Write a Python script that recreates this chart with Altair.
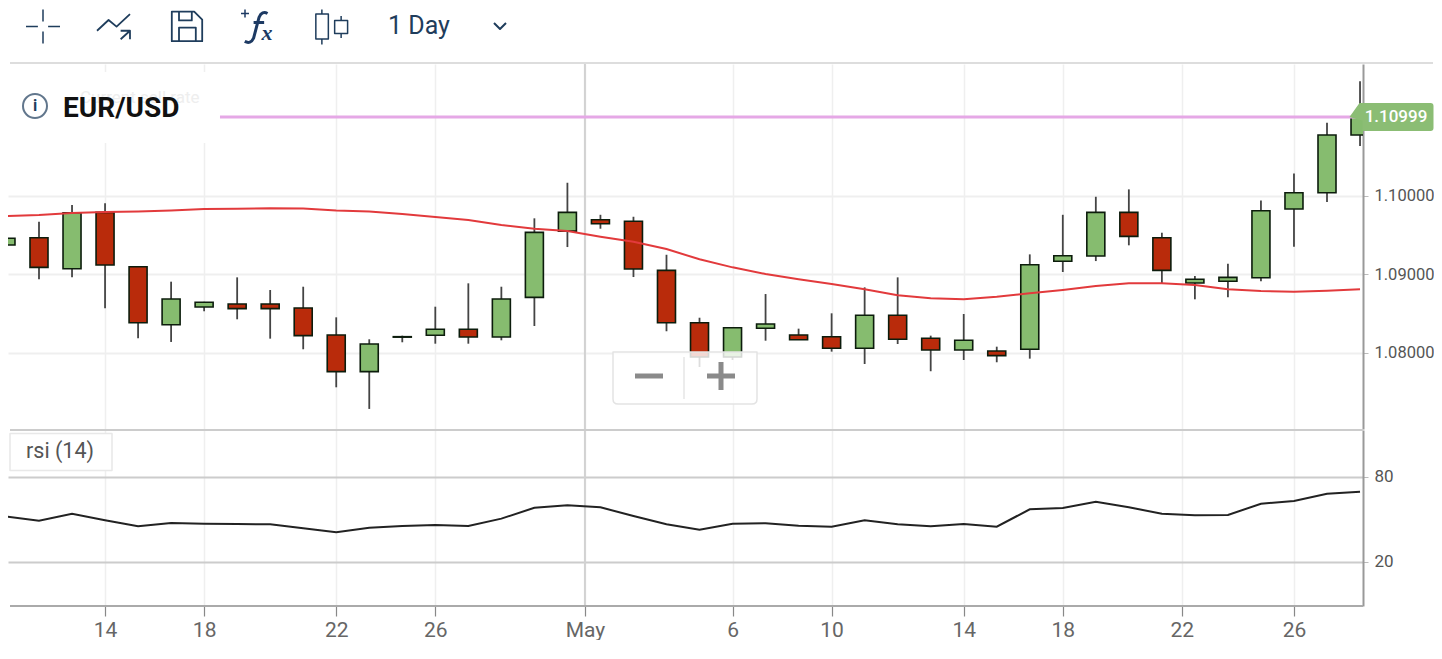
import json
import altair as alt
import pandas as pd

# ---- candle data (index 0 = first full candle) ----
idx = list(range(-1, 41))
open_ = [1.09372,1.09464,1.09071,1.09787,1.09096,1.08359,1.08584,1.08622,1.08622,1.08572,1.08229,1.07763,1.08201,1.08225,1.08301,1.08203,1.08707,1.09549,1.09693,1.09673,1.09050,1.08385,1.07949,1.08314,1.08229,1.08207,1.08060,1.08479,1.08187,1.08038,1.08025,1.08047,1.09165,1.09232,1.09787,1.09464,1.08889,1.08911,1.08956,1.09829,1.10036,1.10769]
high = [1.09511,1.09668,1.09880,1.09901,1.09100,1.08906,1.08650,1.08961,1.08800,1.08842,1.08453,1.08174,1.08220,1.08588,1.08885,1.08842,1.09711,1.10163,1.09756,1.09731,1.09248,1.08448,1.08325,1.08749,1.08309,1.08504,1.08834,1.08961,1.08220,1.08495,1.08080,1.09253,1.09756,1.09985,1.10079,1.09528,1.08978,1.09134,1.09939,1.10282,1.10925,1.11454]
low = [1.09372,1.08936,1.08961,1.08568,1.08187,1.08140,1.08530,1.08428,1.08182,1.08047,1.07564,1.07289,1.08136,1.08118,1.08118,1.08161,1.08343,1.09346,1.09579,1.08965,1.08276,1.07822,1.07911,1.08156,1.08165,1.08017,1.07860,1.08114,1.07768,1.07911,1.07882,1.07928,1.09029,1.09168,1.09368,1.08885,1.08682,1.08707,1.08911,1.09350,1.09918,1.10629]
close = [1.09457,1.09088,1.09782,1.09118,1.08385,1.08686,1.08644,1.08563,1.08563,1.08220,1.07763,1.08114,1.08207,1.08301,1.08203,1.08686,1.09533,1.09787,1.09642,1.09067,1.08385,1.07949,1.08321,1.08368,1.08169,1.08060,1.08479,1.08174,1.08038,1.08161,1.07966,1.09121,1.09236,1.09787,1.09482,1.09050,1.08936,1.08961,1.09807,1.10036,1.10769,1.10999]
ma = [1.09740,1.09753,1.09778,1.09791,1.09797,1.09810,1.09829,1.09833,1.09839,1.09835,1.09810,1.09797,1.09765,1.09727,1.09689,1.09626,1.09579,1.09549,1.09477,1.09414,1.09321,1.09190,1.09088,1.09003,1.08936,1.08876,1.08809,1.08733,1.08695,1.08682,1.08715,1.08758,1.08800,1.08851,1.08885,1.08885,1.08864,1.08809,1.08787,1.08779,1.08791,1.08809]
rsi = [52.0,48.9,53.9,49.2,45.0,47.3,46.8,46.6,46.4,43.6,40.8,44.0,45.2,45.9,45.2,50.4,58.1,59.8,58.4,52.3,46.4,42.6,46.8,47.1,45.4,44.7,49.2,46.4,45.0,46.6,44.7,57.0,57.9,62.4,58.4,53.9,52.8,53.0,60.9,62.8,68.0,69.4]

tick_pos = [2, 5, 9, 12, 16.53, 21, 24, 28, 31, 34.6, 38]
tick_txt = ["14", "18", "22", "26", "May", "6", "10", "14", "18", "22", "26"]
price_ticks = [1.08, 1.09, 1.10]
rsi_ticks = [20, 80]
current_rate = 1.10999

X_DOM = [-0.9387, 40.09]
P_DOM = [1.07034, 1.11672]
R_DOM = [-11.3, 113]
W, H1, H2 = 1355, 365, 176
NAVY = "#1f3d5c"

df = pd.DataFrame({"i": idx, "open": open_, "high": high, "low": low, "close": close,
                   "ma": ma, "rsi": rsi})
df["dir"] = ["up" if c >= o else "down" for o, c in zip(open_, close)]

xs = alt.Scale(domain=X_DOM, nice=False, zero=False, padding=0)
ps = alt.Scale(domain=P_DOM, nice=False, zero=False)
rs = alt.Scale(domain=R_DOM, nice=False, zero=False)
one = pd.DataFrame({"a": [0]})
label_map = json.dumps({str(k): v for k, v in zip(tick_pos, tick_txt)})


def sym(path, cx, cy, half, ox=8, oy=64, **kw):
    """Decorative glyph, placed in screen pixels, drawn as a vector symbol."""
    opts = dict(filled=False, strokeWidth=1.8, stroke=NAVY, opacity=1, strokeJoin="round")
    opts.update(kw)
    return alt.Chart(one).mark_point(shape=path, size=(2 * half) ** 2, **opts).encode(
        x=alt.value(cx - ox), y=alt.value(cy - oy))


def txt(s, x, y, size, color, oy=64, **kw):
    opts = dict(font="Roboto", align="left", baseline="middle")
    opts.update(kw)
    return alt.Chart(one).mark_text(text=s, fontSize=size, color=color, **opts).encode(
        x=alt.value(x - 8), y=alt.value(y - oy))


x_grid = alt.Axis(values=tick_pos, grid=True, gridColor="#efefef", gridWidth=1.5, ticks=False,
                  labels=False, domain=False, title=None)
wicks = alt.Chart(df).mark_rule(color="#444444", strokeWidth=1.8, clip=True).encode(
    x=alt.X("i:Q", scale=xs, axis=x_grid),
    y=alt.Y("low:Q", scale=ps, axis=alt.Axis(
        orient="right", values=price_ticks, format=".5f", grid=True, gridColor="#efefef",
        gridWidth=2, title=None, labelFont="Roboto", labelFontSize=16.5, labelColor="#555555",
        labelPadding=6, tickColor="#bbbbbb", tickSize=5, domainColor="#999999", domainWidth=2)),
    y2="high:Q")
bodies = alt.Chart(df).mark_bar(size=18, stroke="#0c1c0c", strokeWidth=1.6, clip=True,
                                orient="vertical").encode(
    x=alt.X("i:Q", scale=xs),
    y=alt.Y("open:Q", scale=ps),
    y2="close:Q",
    color=alt.Color("dir:N", legend=None,
                    scale=alt.Scale(domain=["up", "down"], range=["#86BC6F", "#B92B0B"])))
ma_line = alt.Chart(df).mark_line(color="#E23A3C", strokeWidth=2, clip=True).encode(
    x=alt.X("i:Q", scale=xs), y=alt.Y("ma:Q", scale=ps))
may_top = alt.Chart(pd.DataFrame({"x": [tick_pos[4]]})).mark_rule(
    color="#d2d2d2", strokeWidth=2).encode(x=alt.X("x:Q", scale=xs))
pink = alt.Chart(pd.DataFrame({"x": [5.48], "x2": [40], "y": [current_rate]})).mark_rule(
    color="#E5A8E6", strokeWidth=3).encode(
    x=alt.X("x:Q", scale=xs), x2="x2:Q", y=alt.Y("y:Q", scale=ps))

anchor = alt.Chart(one).mark_rule(opacity=0, strokeWidth=0.1).encode(
    x=alt.value(0.1), y=alt.value(-55.9), y2=alt.value(0))
top_line = alt.Chart(one).mark_rule(color="#dddddd", strokeWidth=2).encode(
    x=alt.value(2), x2=alt.value(1425), y=alt.value(-1))
white_box = sym("M-1 -0.348 L1 -0.348 L1 0.348 L-1 0.348 Z", 110, 107.5, 102,
                filled=True, fill="white", strokeWidth=0)
tag = sym("M-1 0 L-0.762 -0.333 L0.93 -0.333 Q1 -0.333 1 -0.26 L1 0.26 Q1 0.333 0.93 0.333 L-0.69 0.333 L-0.69 0.09 Z",
          1391.5, 117, 42, filled=True, fill="#8BBD74", strokeWidth=0)
zoom_box = sym("M-1 -0.36 L1 -0.36 L1 0.29 Q1 0.36 0.93 0.36 L-0.93 0.36 Q-1 0.36 -1 0.29 Z",
               685, 378, 72, filled=True, fill="#ffffff", fillOpacity=0.82,
               stroke="#e3e3e3", strokeWidth=1.5)
zoom_div = sym("M0 -1 L0 1", 684, 378, 21, stroke="#e6e6e6", strokeWidth=1.5)
minus = sym("M-1 0 L1 0", 649, 376, 14, stroke="#8a8a8a", strokeWidth=5)
plus = sym("M-1 0 L1 0 M0 -1 L0 1", 721, 376, 14, stroke="#8a8a8a", strokeWidth=5)

crosshair = sym("M-1 0 L-0.3 0 M0.3 0 L1 0 M0 -1 L0 -0.3 M0 0.3 L0 1", 43, 26.5, 17, strokeWidth=1.5)
trend = sym("M-0.97 0.22 L-0.29 -0.41 L0.18 -0.02 L0.97 -0.76 M0.42 0.72 L0.97 0.22 M0.42 0.22 L0.97 0.22 L0.97 0.72",
            113.5, 27, 17)
floppy = sym("M-0.95 -0.9 L0.45 -0.9 L0.95 -0.4 L0.95 0.95 L-0.95 0.95 Z M-0.5 -0.9 L-0.5 -0.35 L0.3 -0.35 L0.3 -0.9 M-0.5 0.95 L-0.5 0.1 L0.55 0.1 L0.55 0.95",
             187, 26, 16)
candle_icon = sym("M-0.895 -0.74 L-0.18 -0.74 L-0.18 0.68 L-0.895 0.68 Z M-0.55 -1 L-0.55 -0.74 M-0.55 0.68 L-0.55 1 M0.18 -0.37 L0.92 -0.37 L0.92 0.37 L0.18 0.37 Z M0.55 -0.63 L0.55 -0.37 M0.55 0.37 L0.55 0.63",
                  331.5, 27, 17.5, strokeWidth=1.5)
fx_plus = sym("M-1 0 L1 0 M0 -1 L0 1", 245, 13.5, 4, stroke="#1d3a63", strokeWidth=1.5)
fx_f = sym("M0.62 -0.82 Q0.3 -1 0.12 -0.6 L-0.2 0.62 Q-0.38 1 -0.72 0.82 M-0.2 -0.3 L0.42 -0.3",
           257, 27.5, 17, stroke="#1d3a63", strokeWidth=3)
chevron = sym("M-1 -0.5 L0 0.5 L1 -0.5", 500, 26, 6, strokeWidth=2)
info = alt.Chart(one).mark_point(shape="circle", size=24 ** 2, filled=False, stroke=NAVY,
                                 strokeWidth=2).encode(x=alt.value(27), y=alt.value(42))

price_panel = alt.layer(
    wicks, may_top, bodies, ma_line, white_box, pink,
    anchor, top_line,
    txt("Current sell rate", 80, 98, 17, "#eeeeee"),
    info,
    txt("i", 35, 106, 16, NAVY, align="center", fontWeight="bold"),
    txt("EUR/USD", 63, 109, 28, "#111111", fontWeight="bold"),
    tag,
    txt("1.10999", 1396, 117, 17, "#ffffff", align="center", fontWeight=500),
    zoom_box, zoom_div, minus, plus,
    crosshair, trend, floppy, fx_plus, fx_f,
    txt("x", 267, 33, 22, "#1d3a63", font="Liberation Serif", fontStyle="italic",
        fontWeight="bold", align="center"),
    candle_icon,
    txt("1 Day", 388, 26, 25, NAVY),
    chevron,
).properties(width=W, height=H1)

# ---- RSI panel ----
rsi_line = alt.Chart(df).mark_line(color="#222222", strokeWidth=2, clip=True).encode(
    x=alt.X("i:Q", scale=xs, axis=alt.Axis(
        values=tick_pos, labelExpr=label_map + "[datum.value]", grid=True, gridColor="#efefef",
        gridWidth=1.5, title=None, labelFont="Roboto", labelFontSize=21, labelColor="#666666",
        labelPadding=3, tickSize=10, tickColor="#888888", tickWidth=1.2, domain=False,
        labelOverlap=False, labelFlush=False)),
    y=alt.Y("rsi:Q", scale=rs, axis=alt.Axis(
        orient="right", values=rsi_ticks, format="d", grid=True, gridColor="#cccccc", gridWidth=2,
        title=None, labelFont="Roboto", labelFontSize=17, labelColor="#555555", labelPadding=6,
        tickColor="#bbbbbb", tickSize=5, domainColor="#999999", domainWidth=2)))
may_bot = alt.Chart(pd.DataFrame({"x": [tick_pos[4]]})).mark_rule(
    color="#d2d2d2", strokeWidth=2).encode(x=alt.X("x:Q", scale=xs))
sep = alt.Chart(one).mark_rule(color="#cccccc", strokeWidth=2).encode(
    x=alt.value(2), x2=alt.value(W), y=alt.value(0))
bottom_line = alt.Chart(one).mark_rule(color="#aaaaaa", strokeWidth=2).encode(
    x=alt.value(2), x2=alt.value(W), y=alt.value(H2))
rsi_box = sym("M-1 -0.365 L1 -0.365 L1 0.365 L-1 0.365 Z", 61, 451, 51, oy=429,
              filled=True, fill="#ffffff", stroke="#e8e8e8", strokeWidth=1.5)

rsi_panel = alt.layer(
    may_bot, rsi_line, sep, bottom_line, rsi_box,
    txt("rsi (14)", 26, 451, 21.5, "#555555", oy=429),
).properties(width=W, height=H2)

chart = alt.vconcat(price_panel, rsi_panel, spacing=-2).properties(
    padding=0, background="white").configure_view(stroke=None)

chart.save("out.html", embed_options={"renderer": "svg", "actions": False})
